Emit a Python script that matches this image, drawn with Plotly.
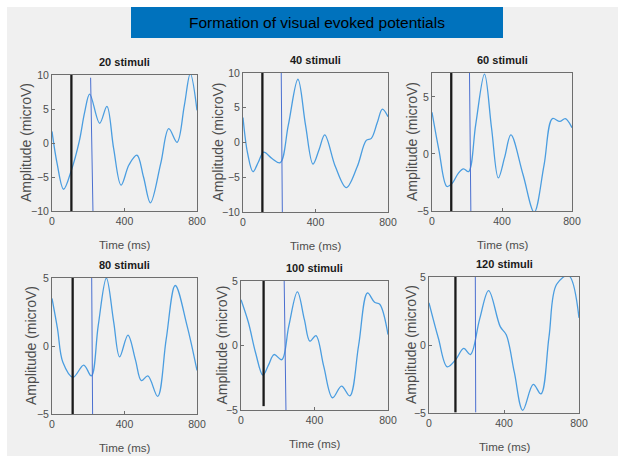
import plotly.graph_objects as go

# ---------------- data ----------------
titles = ["20 stimuli", "40 stimuli", "60 stimuli", "80 stimuli", "100 stimuli", "120 stimuli"]

t1 = [0, 28, 64, 107, 150, 180, 208, 263, 303, 340, 381, 425, 469, 505, 543, 600, 644, 690, 730, 763, 800]
v1 = [1.7, -3.0, -6.8, -4.0, 0.2, 4.5, 7.2, 2.9, 5.4, -0.8, -6.2, -3.2, -1.8, -5.0, -8.8, -3.0, 2.1, 0.1, 5.5, 10.2, 4.8]

t2 = [0, 25, 55, 85, 114, 160, 205, 250, 303, 345, 386, 420, 451, 510, 570, 630, 680, 708, 740, 769, 800]
v2 = [3.6, -1.5, -4.2, -2.8, -1.4, -2.3, -2.9, 2.5, 9.1, 2.5, -3.1, -1.0, 1.1, -3.5, -6.5, -3.5, 0.3, 0.6, 2.8, 4.8, 3.7]

t3 = [0, 40, 85, 114, 150, 180, 209, 250, 300, 340, 379, 415, 451, 520, 584, 640, 688, 730, 762, 800]
v3 = [3.65, 0.3, -2.85, -2.6, -1.7, -1.3, -1.55, 2.6, 7.0, 2.3, -2.1, -0.3, 1.67, -1.8, -5.1, -1.0, 3.1, 2.85, 3.1, 2.3]

t4 = [0, 30, 60, 116, 175, 217, 255, 300, 340, 373, 419, 460, 493, 529, 583, 630, 680, 745, 800]
v4 = [3.5, 1.3, -1.2, -2.3, -1.4, -2.2, 1.5, 5.0, 1.8, -0.8, 0.8, -1.0, -2.55, -2.2, -3.7, 0.5, 4.45, 1.5, -1.8]

t5 = [0, 40, 80, 119, 150, 180, 222, 260, 307, 345, 375, 408, 450, 498, 547, 592, 640, 688, 727, 755, 800]
v5 = [3.55, 1.8, -0.6, -2.3, -1.5, -0.7, -1.1, 1.5, 4.15, 2.0, 0.33, 0.77, -1.6, -4.05, -3.15, -3.9, 0.0, 4.07, 3.35, 3.2, 0.85]

t6 = [0, 50, 97, 141, 185, 221, 270, 318, 380, 412, 455, 500, 556, 597, 640, 680, 745, 800]
v6 = [3.1, 0.5, -1.6, -1.1, -0.25, -0.7, 1.9, 4.0, 1.35, 0.75, -2.0, -4.8, -2.9, -3.6, 0.6, 4.45, 5.1, 2.0]

times = [t1, t2, t3, t4, t5, t6]
values = [v1, v2, v3, v4, v5, v6]

y_ranges = [[-10, 10], [-10, 10], [-5, 7.1], [-5, 5], [-5, 5], [-5, 5]]
y_ticks = [[-10, -5, 0, 5, 10], [-10, -5, 0, 5, 10], [-5, 0, 5], [-5, 0, 5], [-5, 0, 5], [-5, 0, 5]]
x_ticks = [0, 400, 800]

black_times = [107, 107, 110, 114, 123, 141]
black_low = [-10, -10, -5.3, -5.3, -4.7, -4.95]
black_high = [10, 10, 7.1, 5.2, 5.1, 5.1]

blue_top_times = [213, 211, 214, 219, 235, 247]
blue_bottom_times = [226, 217, 222, 224, 245, 249]
blue_low = [-10, -10, -5, -5, -5.3, -4.95]
blue_high = [9.6, 10, 7.5, 5, 5.1, 5.4]

main_title = "Formation of visual evoked potentials"
x_label = "Time (ms)"
y_label = "Amplitude (microV)"

# ---------------- layout ----------------
W, H = 618, 456
boxes = [(52, 197, 75, 211), (243, 388, 73, 212), (432, 572, 73, 211),
         (52, 197, 278, 414), (241, 388, 281, 410), (429, 579, 277, 413)]
ylab_off = [26, 26, 20, 21, 20, 18]

FONT = "Liberation Sans, Arial, sans-serif"

fig = go.Figure()
annotations = []
for i in range(6):
    xa = "x" if i == 0 else f"x{i+1}"
    ya = "y" if i == 0 else f"y{i+1}"
    fig.add_trace(go.Scatter(x=times[i], y=values[i], mode="lines",
                             line=dict(color="#4a9de0", width=1.3, shape="spline", smoothing=1.0),
                             xaxis=xa, yaxis=ya, showlegend=False, hoverinfo="skip"))
    fig.add_trace(go.Scatter(x=[black_times[i], black_times[i]], y=[black_low[i], black_high[i]],
                             mode="lines", line=dict(color="#1a1a1a", width=2.3),
                             xaxis=xa, yaxis=ya, showlegend=False, hoverinfo="skip"))
    fig.add_trace(go.Scatter(x=[blue_bottom_times[i], blue_top_times[i]], y=[blue_low[i], blue_high[i]],
                             mode="lines", line=dict(color="#4a6fd0", width=1),
                             xaxis=xa, yaxis=ya, showlegend=False, hoverinfo="skip"))
    l, r, t, b = boxes[i]
    axk = "xaxis" if i == 0 else f"xaxis{i+1}"
    ayk = "yaxis" if i == 0 else f"yaxis{i+1}"
    common = dict(showgrid=False, zeroline=False, showline=True, mirror=True, automargin=False,
                  linecolor="#6e6e6e", linewidth=1, ticks="inside", ticklen=3,
                  tickcolor="#6e6e6e", tickfont=dict(family=FONT, size=10.5, color="#4d4d4d"))
    fig.layout[axk] = dict(domain=[l / W, r / W], range=[0, 800], tickvals=x_ticks,
                           anchor=ya, **common)
    fig.layout[ayk] = dict(domain=[1 - b / H, 1 - t / H], range=y_ranges[i], tickvals=y_ticks[i],
                           anchor=xa, **common)
    cx = (l + r) / 2
    annotations.append(dict(text=f"<b>{titles[i]}</b>", x=cx / W, y=1 - (t - 13) / H,
                            xref="paper", yref="paper", showarrow=False, xanchor="center", yanchor="middle",
                            font=dict(family=FONT, size=11, color="#1a1a1a")))
    annotations.append(dict(text=x_label, x=cx / W, y=1 - (b + 34) / H,
                            xref="paper", yref="paper", showarrow=False, xanchor="center", yanchor="middle",
                            font=dict(family=FONT, size=11.5, color="#4d4d4d")))
    annotations.append(dict(text=y_label, x=(l - ylab_off[i]) / W, y=1 - ((t + b) / 2) / H,
                            xref="paper", yref="paper", showarrow=False, xanchor="center", yanchor="middle",
                            textangle=-90, font=dict(family=FONT, size=14, color="#4d4d4d")))

annotations.append(dict(text=main_title, x=317 / W, y=1 - 22.5 / H, xref="paper", yref="paper",
                        showarrow=False, xanchor="center", yanchor="middle",
                        font=dict(family=FONT, size=15.5, color="#000000")))

shapes = [
    dict(type="rect", xref="paper", yref="paper", x0=7 / W, x1=1, y0=0, y1=1 - 7 / H,
         fillcolor="#f0f0f0", line=dict(width=0), layer="below"),
    dict(type="rect", xref="paper", yref="paper", x0=131 / W, x1=503 / W, y0=1 - 38 / H, y1=1 - 7 / H,
         fillcolor="#0072bd", line=dict(width=0), layer="below"),
]

fig.update_layout(width=W, height=H, margin=dict(l=0, r=0, t=0, b=0, pad=0), autosize=False,
                  paper_bgcolor="#ffffff", plot_bgcolor="#ffffff",
                  annotations=annotations, shapes=shapes, showlegend=False)

post = """
document.documentElement.style.margin='0';
document.body.style.margin='0';
document.body.style.overflow='hidden';
"""

fig.write_html("out.html", config={"displayModeBar": False}, post_script=post)
